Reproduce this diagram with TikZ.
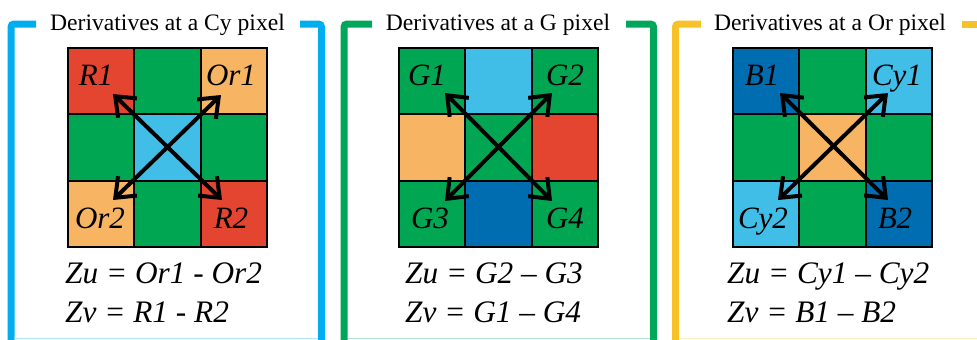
\documentclass[tikz,border=0pt]{standalone}
\usepackage{fontspec}
\setmainfont{Liberation Serif}
\usetikzlibrary{arrows.meta}
\definecolor{cR}{HTML}{E34530}
\definecolor{cO}{HTML}{F7B462}
\definecolor{cG}{HTML}{00A651}
\definecolor{cC}{HTML}{41BEE8}
\definecolor{cB}{HTML}{006DB0}
\definecolor{fC}{HTML}{00AEEF}
\definecolor{fG}{HTML}{00A65A}
\definecolor{fY}{HTML}{F6C228}
\tikzset{
  cell/.style={draw=black, line width=2bp, minimum size=66.33bp, inner sep=0pt, outer sep=0pt},
  frame/.style={line width=7bp, rounded corners=3bp},
  faint/.style={line width=1.5bp},
  ttl/.style={anchor=base, inner sep=0pt, font=\fontsize{23.6bp}{25bp}\selectfont},
  lbl/.style={anchor=base, inner sep=0pt, font=\fontsize{31bp}{32bp}\selectfont\itshape},
  eqn/.style={anchor=base west, inner sep=0pt, font=\fontsize{31.3bp}{32bp}\selectfont\itshape},
  arr/.style={line width=4bp, {Straight Barb[length=17bp,width=27bp]}-{Straight Barb[length=17bp,width=27bp]}}
}
\begin{document}
\begin{tikzpicture}[x=1bp, y=-1bp]
\useasboundingbox (0,0) rectangle (977,339);
\clip (0,0) rectangle (977,339);
% frames
\draw[frame, fC] (36,24) -- (11,24) -- (11,360);
\draw[frame, fC] (300,24) -- (321.5,24) -- (321.5,360);
\draw[faint, fC!30] (14,338.5) -- (318,338.5);
\draw[frame, fG] (372,24) -- (344,24) -- (344,360);
\draw[frame, fG] (626,24) -- (653.5,24) -- (653.5,360);
\draw[faint, fG!30] (348,338.5) -- (650,338.5);
\draw[frame, fY] (701,24) -- (675.5,24) -- (675.5,360);
\draw[frame, fY] (962,24) -- (995,24);
\draw[faint, fY!30] (679,338.5) -- (977,338.5);
% titles
\node[ttl] (t1) at (167.5,30) {Derivatives at a Cy pixel};
\node[ttl] (t2) at (498,30) {Derivatives at a G pixel};
\node[ttl] (t3) at (830,30) {Derivatives at a Or pixel};
% grids
\foreach \p/\x/\cols in {
  1/68/{cR,cG,cO,cG,cC,cG,cO,cG,cR},
  2/399/{cG,cC,cG,cO,cG,cR,cG,cB,cG},
  3/733/{cB,cG,cC,cG,cO,cG,cC,cG,cB}}{
  \foreach \c [count=\i from 0] in \cols {
    \pgfmathtruncatemacro{\row}{int(\i/3)}
    \pgfmathtruncatemacro{\col}{mod(\i,3)}
    \node[cell, fill=\c] (p\p-\row-\col) at ({\x+33.17+66.33*\col},{48+33.17+66.33*\row}) {};
  }
}
% arrows
\coordinate (a1tl) at (113,94);  \coordinate (a1br) at (222,200);
\coordinate (a1tr) at (221,95);  \coordinate (a1bl) at (113,200);
\coordinate (a2tl) at (445,93);  \coordinate (a2br) at (552,201);
\coordinate (a2tr) at (552,93);  \coordinate (a2bl) at (445,201);
\coordinate (a3tl) at (780,93);  \coordinate (a3br) at (888,200);
\coordinate (a3tr) at (888,93);  \coordinate (a3bl) at (778,200);
\foreach \p in {1,2,3}{
  \draw[arr] (a\p tl) -- (a\p br);
  \draw[arr] (a\p tr) -- (a\p bl);
}
% labels
\node[lbl] (l1a) at (96,85) {R1};
\node[lbl] (l1b) at (231,85) {Or1};
\node[lbl] (l1c) at (100,228) {Or2};
\node[lbl] (l1d) at (231,228) {R2};
\node[lbl] (l2a) at (427,85) {G1};
\node[lbl] (l2b) at (565,85) {G2};
\node[lbl] (l2c) at (430,228) {G3};
\node[lbl] (l2d) at (565,228) {G4};
\node[lbl] (l3a) at (762,85) {B1};
\node[lbl] (l3b) at (897,85) {Cy1};
\node[lbl] (l3c) at (763,228) {Cy2};
\node[lbl] (l3d) at (895,228) {B2};
% equations
\node[eqn] (e1u) at (65,283) {Zu = Or1 - Or2};
\node[eqn] (e1v) at (65,322) {Zv = R1 - R2};
\node[eqn] (e2u) at (405,283) {Zu = G2 – G3};
\node[eqn] (e2v) at (405,322) {Zv = G1 – G4};
\node[eqn] (e3u) at (727,283) {Zu = Cy1 – Cy2};
\node[eqn] (e3v) at (727,322) {Zv = B1 – B2};
\end{tikzpicture}
\end{document}
